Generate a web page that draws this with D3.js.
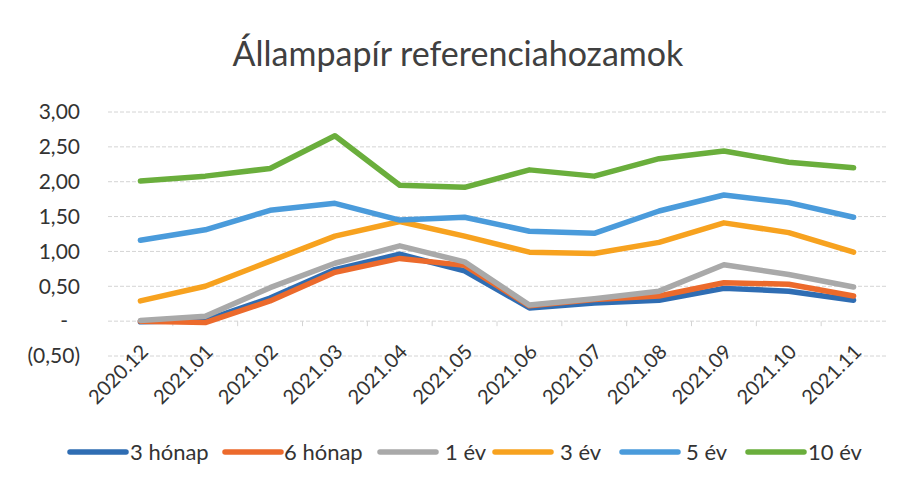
<!DOCTYPE html>
<html>
<head>
<meta charset="utf-8">
<script src="https://cdn.jsdelivr.net/npm/d3@7"></script>
<style>
  body {margin: 0; background: #fff;}
  text {font-family: Lato, 'Open Sans', sans-serif; fill: #333;}
</style>
</head>
<body>
<div class="chart"></div>
<script>
var months = ['2020.12','2021.01','2021.02','2021.03','2021.04','2021.05',
  '2021.06','2021.07','2021.08','2021.09','2021.10','2021.11']

var seriesNames = ['3 hónap', '6 hónap', '1 év', '3 év', '5 év', '10 év']
var seriesColors = ['#2f6db3', '#ec6a2c', '#a9a9a9', '#f7a21f', '#4a9bdb', '#6aae3c']

var m3  = [-0.01, 0.01, 0.33, 0.74, 0.96, 0.72, 0.19, 0.26, 0.30, 0.47, 0.43, 0.30]
var m6  = [ 0.00,-0.02, 0.29, 0.70, 0.90, 0.80, 0.22, 0.31, 0.36, 0.55, 0.53, 0.36]
var y1  = [ 0.01, 0.07, 0.48, 0.83, 1.08, 0.85, 0.23, 0.32, 0.43, 0.81, 0.67, 0.49]
var y3  = [ 0.29, 0.50, 0.86, 1.22, 1.43, 1.22, 0.99, 0.97, 1.13, 1.41, 1.27, 0.99]
var y5  = [ 1.16, 1.31, 1.59, 1.69, 1.45, 1.49, 1.29, 1.26, 1.58, 1.81, 1.70, 1.49]
var y10 = [ 2.01, 2.08, 2.19, 2.66, 1.95, 1.92, 2.17, 2.08, 2.33, 2.44, 2.28, 2.20]

var yTicks = [-0.5, 0, 0.5, 1, 1.5, 2, 2.5, 3]

var series = [m3, m6, y1, y3, y5, y10].map((values, i) => ({
  name: seriesNames[i], color: seriesColors[i], values
}))

var width = 904, height = 485
var margin = {left: 108, right: 18, top: 112, bottom: 129}

var svg = d3.select('.chart').append('svg')
  .attr('width', width).attr('height', height)

var x = d3.scaleBand().domain(months).range([margin.left, width - margin.right])
var y = d3.scaleLinear().domain([-0.5, 3]).range([height - margin.bottom, margin.top])

var fmt = v => v == 0 ? '-' : v < 0
  ? '(' + d3.format('.2f')(-v).replace('.', ',') + ')'
  : d3.format('.2f')(v).replace('.', ',')

// title
svg.append('text')
  .attr('x', 458).attr('y', 66)
  .attr('text-anchor', 'middle')
  .style('font-size', '34px').style('fill', '#404040')
  .text('Állampapír referenciahozamok')

// grid
svg.append('g').selectAll('line').data(yTicks).join('line')
  .attr('x1', margin.left).attr('x2', width - margin.right)
  .attr('y1', d => y(d)).attr('y2', d => y(d))
  .attr('stroke', '#d4d4d4').attr('stroke-width', 1)
  .attr('stroke-dasharray', '4,2')

// y axis
var yAxis = svg.append('g')
  .attr('transform', `translate(${margin.left - 25},0)`)
  .call(d3.axisLeft(y).tickValues(yTicks).tickFormat(fmt).tickSize(0))
yAxis.select('.domain').remove()
yAxis.selectAll('text')
  .style('font-size', '21px').style('font-family', 'Lato, sans-serif').attr('fill', '#333')
  .attr('dx', d => d == 0 ? -12 : 0)

// category ticks on zero line
svg.append('g').selectAll('line').data(months.slice(1)).join('line')
  .attr('x1', d => x(d)).attr('x2', d => x(d))
  .attr('y1', y(0)).attr('y2', y(0) + 5)
  .attr('stroke', '#d4d4d4')

// x axis labels
svg.append('g').selectAll('text').data(months).join('text')
  .attr('transform', d => `translate(${x(d) + x.bandwidth() / 2 + 9},${y(-0.5) - 3}) rotate(-45)`)
  .attr('text-anchor', 'end')
  .style('font-size', '20px')
  .text(d => d)

// lines
var line = d3.line()
  .x((d, i) => x(months[i]) + x.bandwidth() / 2)
  .y(d => y(d))

svg.append('g').selectAll('path').data(series).join('path')
  .attr('d', d => line(d.values))
  .attr('fill', 'none')
  .attr('stroke', d => d.color)
  .attr('stroke-width', 5.5)
  .attr('stroke-linejoin', 'round')
  .attr('stroke-linecap', 'round')

// legend
var legendX = [70, 225, 380, 495, 622, 748]
var legendGap = [4, 3, 9, 9, 8, 4]
var lg = svg.append('g').selectAll('g').data(series).join('g')
  .attr('transform', (d, i) => `translate(${legendX[i]},452)`)
lg.append('line')
  .attr('x1', 0).attr('x2', 56)
  .attr('stroke', d => d.color).attr('stroke-width', 5.5)
  .attr('stroke-linecap', 'round')
lg.append('text')
  .attr('x', (d, i) => 56 + legendGap[i])
  .attr('dy', '0.35em')
  .style('font-size', '22px')
  .text(d => d.name)
</script>
</body>
</html>
